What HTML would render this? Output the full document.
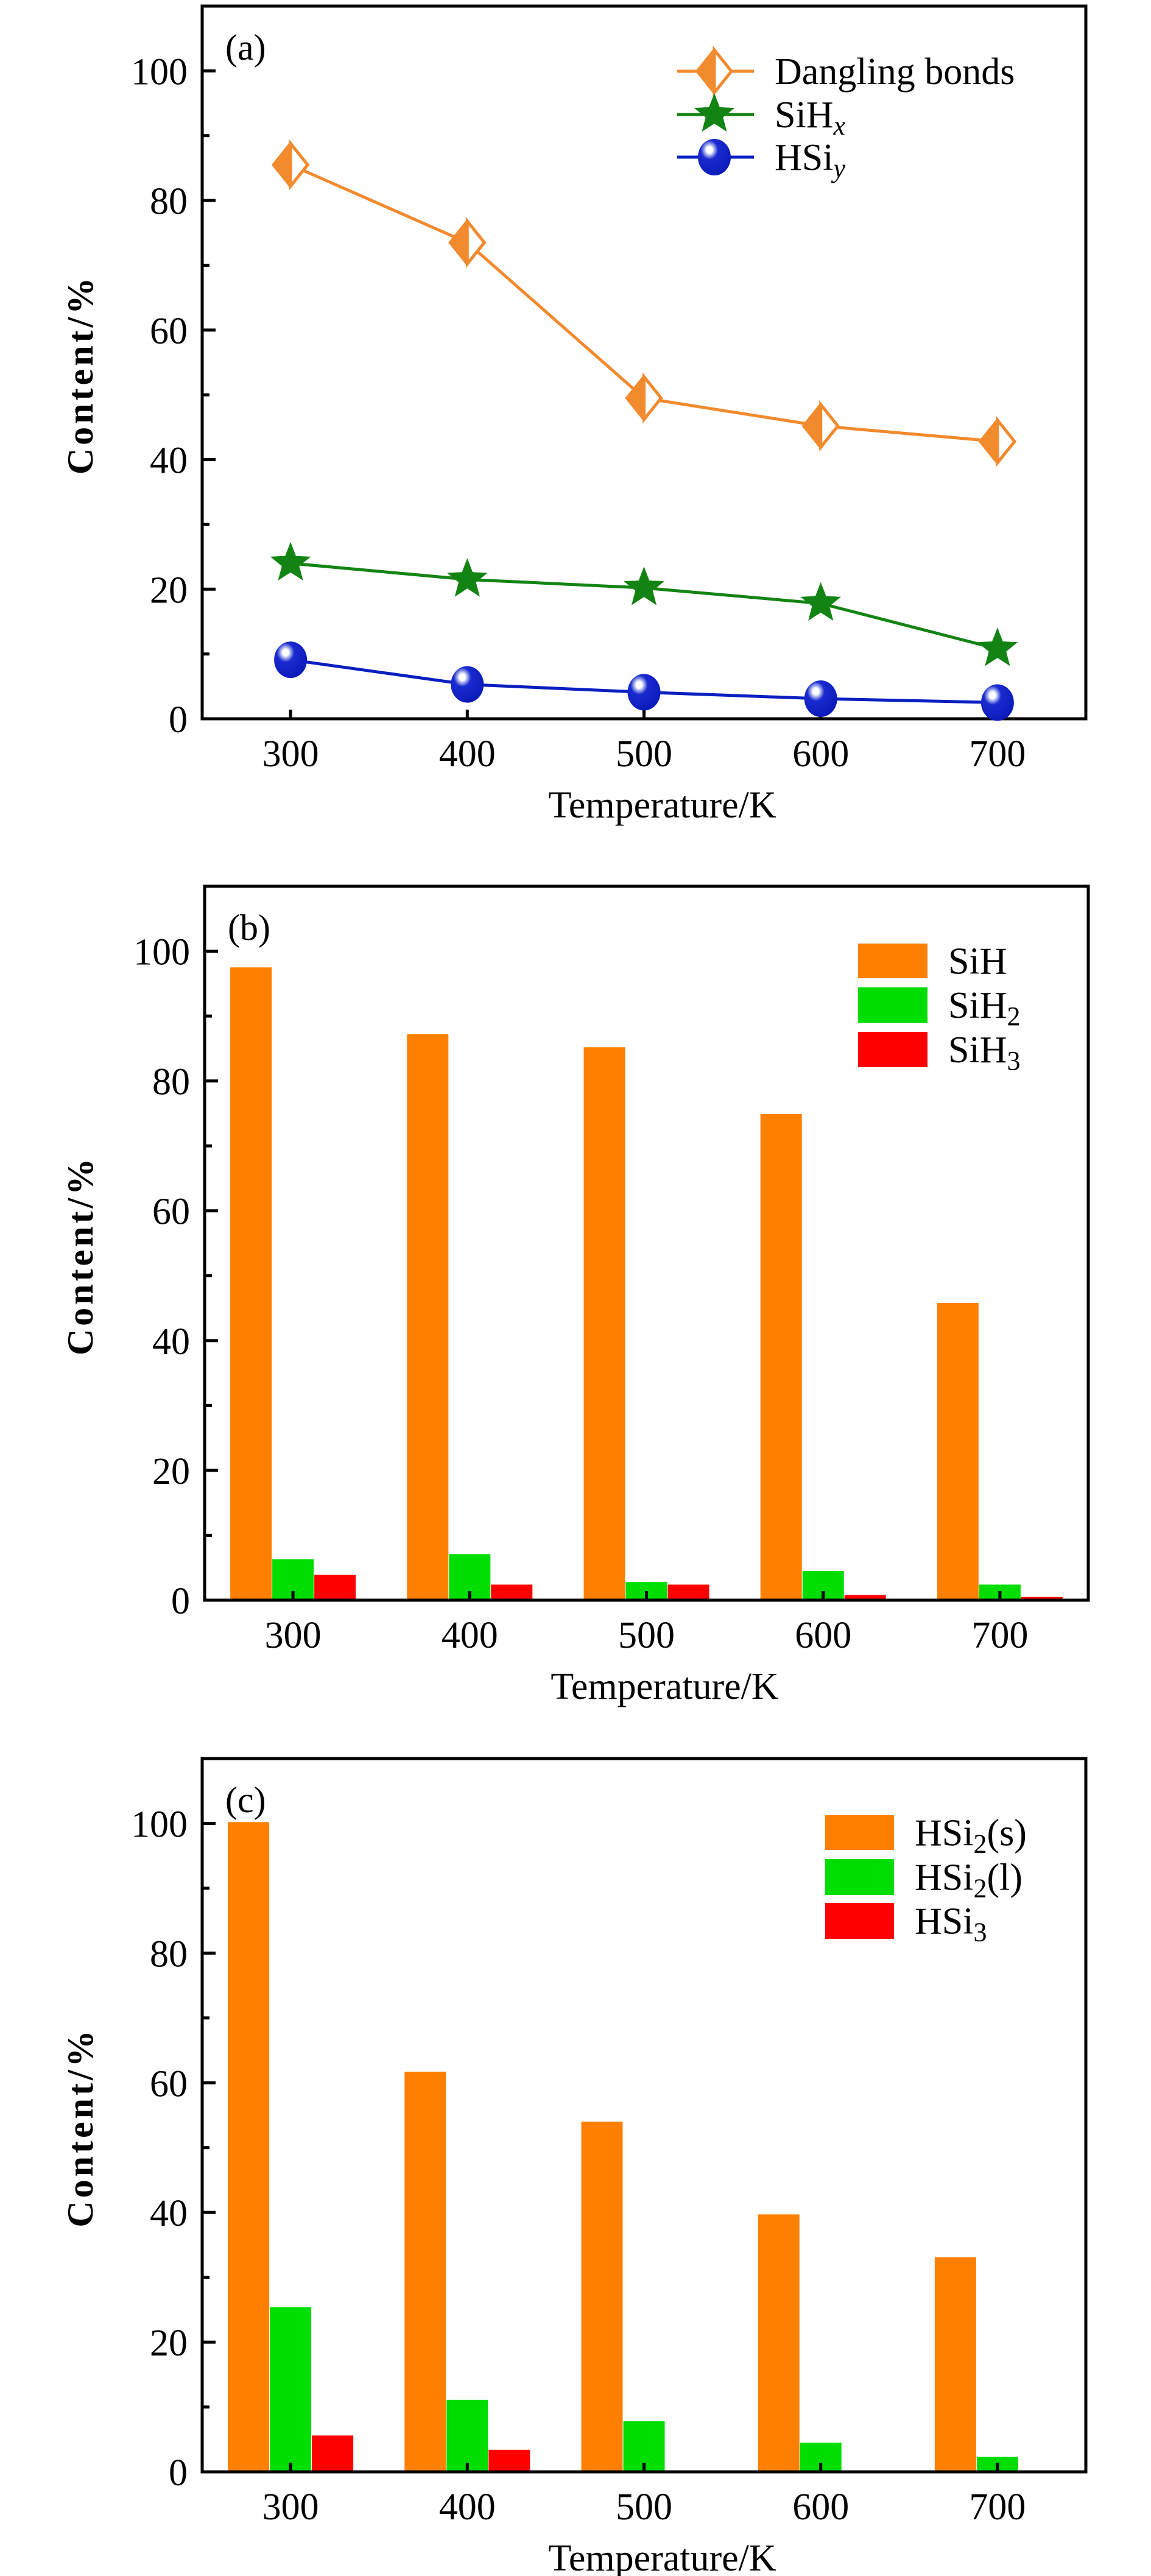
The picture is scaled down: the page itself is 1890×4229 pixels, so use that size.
<!DOCTYPE html>
<html><head><meta charset="utf-8">
<style>
html,body{margin:0;padding:0;background:#fff;}
svg{display:block;}
text{font-family:"Liberation Serif",serif;fill:#000;}
</style></head>
<body>
<svg id="fig" xmlns="http://www.w3.org/2000/svg" width="1890" height="4229" viewBox="0 0 1890 4229">
<defs>
<radialGradient id="sph" cx="0.35" cy="0.3" r="0.75">
<stop offset="0" stop-color="#ffffff"/><stop offset="0.12" stop-color="#ffffff"/>
<stop offset="0.2" stop-color="#aab2ee"/><stop offset="0.35" stop-color="#1a2ad0"/>
<stop offset="1" stop-color="#0a1ab8"/></radialGradient>
</defs>
</svg>
<script>
const categories = [300, 400, 500, 600, 700];
const yTicks = [0, 20, 40, 60, 80, 100];
const danglingBonds = [85.5, 73.5, 49.5, 45.2, 42.8];
const siHx = [24.0, 21.5, 20.2, 17.8, 10.8];
const hSiy = [9.1, 5.3, 4.1, 3.1, 2.5];
const siH = [97.5, 87.2, 85.2, 74.9, 45.8];
const siH2 = [6.3, 7.1, 2.8, 4.5, 2.4];
const siH3 = [3.9, 2.4, 2.4, 0.8, 0.5];
const hSi2s = [100.2, 61.7, 54.0, 39.7, 33.1];
const hSi2l = [25.4, 11.1, 7.8, 4.5, 2.3];
const hSi3 = [5.6, 3.4, 0, 0, 0];

const NS = "http://www.w3.org/2000/svg";
const svg = document.getElementById('fig');
function mk(tag, attrs, parent, txt){
  const e = document.createElementNS(NS, tag);
  for (const k in attrs) e.setAttribute(k, attrs[k]);
  if (txt !== undefined) e.textContent = txt;
  (parent || svg).appendChild(e);
  return e;
}
const ORANGE='#f28a2e', GREEN='#138413', BLUE='#0a1fc0';
const BOR='#ff8000', BGR='#00dd00', BRED='#ff0000';

function makePanel(name, L, T, B){
  const g = mk('g', {});
  
  
  const R = L + 1451;
  const xs = v => L + (v - 250) / 500 * (R - L);
  const ys = v => B - v / 110 * (B - T);
  return {g, L, R, T, B, xs, ys};
}
function axes(p, label){
  const g = p.g;
  for (let v = 0; v <= 110; v += 10) {
    const y = p.ys(v);
    const len = (v % 20 === 0) ? 22 : 12;
    const t = mk('line', {x1:p.L, x2:p.L+len, y1:y, y2:y, stroke:'#000','stroke-width':5}, g);
    
    
  }
  yTicks.forEach(v => {
    const t = mk('text', {x:p.L-24, y:p.ys(v)+22, 'text-anchor':'end','font-size':62}, g, String(v));
    
    
  });
  categories.forEach(c => {
    const x = p.xs(c);
    const t = mk('line', {x1:x, x2:x, y1:p.B, y2:p.B-15, stroke:'#000','stroke-width':5}, g);
    
    
    const l = mk('text', {x:x, y:p.B+78, 'text-anchor':'middle','font-size':62}, g, String(c));
    
    
  });
  const f = mk('rect', {x:p.L, y:p.T, width:p.R-p.L, height:p.B-p.T, fill:'none', stroke:'#000','stroke-width':5}, g);
  
  
  const cy = (p.T + p.B) / 2 + 20;
  const yt = mk('text', {x:0, y:0, 'text-anchor':'middle','font-size':60,'letter-spacing':5,'font-weight':'600',
    transform:`translate(152,${cy}) rotate(-90)`}, g, 'Content/%');
  
  
  const xt = mk('text', {x:(p.L+p.R)/2+30, y:p.B+162, 'text-anchor':'middle','font-size':62}, g, 'Temperature/K');
  
  
  const pl = mk('text', {x:p.L+38, y:p.T+88, 'font-size':60}, g, label);
  
  
}
function diamond(g, x, y){
  const w=28, h=35;
  mk('path', {d:`M${x},${y-h} L${x-w},${y} L${x},${y+h} Z`, fill:ORANGE}, g);
  mk('path', {d:`M${x},${y-h} L${x+w},${y} L${x},${y+h} L${x-w},${y} Z`, fill:'none', stroke:ORANGE,'stroke-width':5}, g);
  mk('path', {d:`M${x},${y-h} L${x+w},${y} L${x},${y+h} Z`, fill:'#fff', stroke:ORANGE,'stroke-width':5}, g);
}
function star(g, x, y){
  const ro=35, ri=15; let d='';
  for (let i=0;i<10;i++){ const r=i%2?ri:ro; const a=-Math.PI/2+i*Math.PI/5;
    d += (i?'L':'M') + (x+r*Math.cos(a)).toFixed(1) + ',' + (y+r*Math.sin(a)).toFixed(1); }
  mk('path', {d:d+'Z', fill:GREEN}, g);
}
function sphere(g, x, y){ mk('ellipse', {cx:x, cy:y, rx:27, ry:30, fill:'url(#sph)'}, g); }

const pa = makePanel('panel-a-line-chart', 332, 10, 1180);
axes(pa, '(a)');
const lineSeries = [
  {vals:danglingBonds, color:ORANGE, mark:diamond, name:'dangling-bonds'},
  {vals:siHx, color:GREEN, mark:star, name:'sihx'},
  {vals:hSiy, color:BLUE, mark:sphere, name:'hsiy'}];
lineSeries.forEach(s => {
  const sg = mk('g', {}, pa.g);
  
  
  const pts = s.vals.map((v,i) => pa.xs(categories[i]) + ',' + pa.ys(v)).join(' ');
  mk('polyline', {points:pts, fill:'none', stroke:s.color, 'stroke-width':5}, sg);
  s.vals.forEach((v,i) => {
    const mg = mk('g', {}, sg);
    
    
    s.mark(mg, pa.xs(categories[i]), pa.ys(v));
  });
});
const legA = [
  {label:'Dangling bonds', sub:'', color:ORANGE, mark:diamond, y:117},
  {label:'SiH', sub:'x', color:GREEN, mark:star, y:188},
  {label:'HSi', sub:'y', color:BLUE, mark:sphere, y:258}];
legA.forEach(e => {
  const lg = mk('g', {}, pa.g);
  
  
  mk('line', {x1:1112, x2:1238, y1:e.y, y2:e.y, stroke:e.color,'stroke-width':5}, lg);
  e.mark(lg, 1173, e.y);
  const t = mk('text', {x:1272, y:e.y+21, 'font-size':62}, lg, e.label);
  if (e.sub) mk('tspan', {dy:12, 'font-size':44, 'font-style':'italic'}, t, e.sub);
});

function barPanel(name, L, T, B, label, series, legX, legRows, legTextX){
  const p = makePanel(name, L, T, B);
  const bw = 68;
  series.forEach((s, si) => {
    s.vals.forEach((v, i) => {
      if (v <= 0) return;
      const cx = p.xs(categories[i]) + (si - 1) * (bw + 1);
      const r = mk('rect', {x:cx - bw/2, y:p.ys(v), width:bw, height:p.B - p.ys(v), fill:s.color}, p.g);
      
      
    });
  });
  axes(p, label);
  series.forEach((s, si) => {
    const lg = mk('g', {}, p.g);
    
    
    const [y0, y1] = legRows[si];
    mk('rect', {x:legX[0], y:y0, width:legX[1]-legX[0], height:y1-y0, fill:s.color}, lg);
    const t = mk('text', {x:legTextX, y:(y0+y1)/2+21, 'font-size':62}, lg, s.label);
    if (s.sub) { mk('tspan', {dy:12, 'font-size':44}, t, s.sub); }
    if (s.after) { mk('tspan', {dy:-12}, t, s.after); }
  });
}
barPanel('panel-b-bar-chart', 336, 1455, 2627, '(b)', [
  {vals:siH, color:BOR, key:'sih', label:'SiH', sub:''},
  {vals:siH2, color:BGR, key:'sih2', label:'SiH', sub:'2'},
  {vals:siH3, color:BRED, key:'sih3', label:'SiH', sub:'3'}],
  [1409, 1523], [[1549,1606],[1621,1679],[1694,1752]], 1557);
barPanel('panel-c-bar-chart', 332, 2887, 4058, '(c)', [
  {vals:hSi2s, color:BOR, key:'hsi2s', label:'HSi', sub:'2', after:'(s)'},
  {vals:hSi2l, color:BGR, key:'hsi2l', label:'HSi', sub:'2', after:'(l)'},
  {vals:hSi3, color:BRED, key:'hsi3', label:'HSi', sub:'3'}],
  [1355, 1468], [[2980,3037],[3052,3111],[3124,3183]], 1502);
</script>
</body></html>
